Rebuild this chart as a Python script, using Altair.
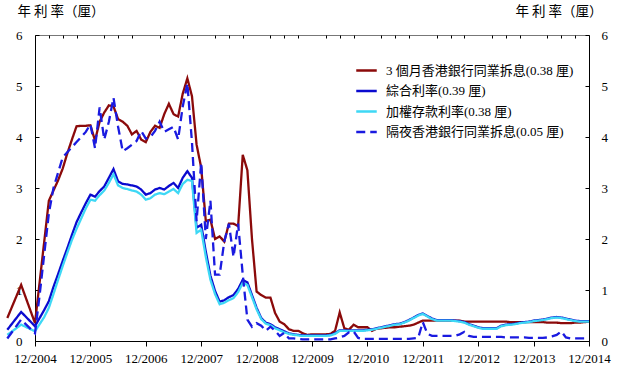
import altair as alt
import pandas as pd

# month index: 0 = Dec 2004 ... 120 = Dec 2014 (two earlier quarterly points for 2004)
months = [-6, -3] + list(range(0, 121))

hibor_3m = [0.45, 1.10,
    0.35, 1.15, 1.95, 2.75, 2.95, 3.15, 3.38, 3.68, 3.95, 4.21,
    4.22, 4.22, 4.23, 3.93, 4.30, 4.48, 4.62, 4.60, 4.35, 4.30,
    4.22, 4.05, 4.12, 3.95, 3.90, 4.10, 4.22, 4.18, 4.45, 4.65,
    4.45, 4.40, 4.85, 5.15, 4.80, 3.85, 3.40, 2.35, 2.38, 2.00,
    2.05, 1.95, 2.30, 2.30, 2.25, 3.65, 3.35, 2.00, 0.97, 0.90,
    0.85, 0.85, 0.55, 0.38, 0.33, 0.23, 0.20, 0.20, 0.15, 0.12,
    0.13, 0.13, 0.13, 0.13, 0.14, 0.20, 0.56, 0.25, 0.22, 0.32,
    0.27, 0.27, 0.27, 0.20, 0.24, 0.25, 0.26, 0.27, 0.27, 0.28,
    0.29, 0.30, 0.32, 0.36, 0.40, 0.40, 0.40, 0.40, 0.40, 0.40,
    0.40, 0.40, 0.40, 0.38, 0.38, 0.38, 0.38, 0.38, 0.38, 0.38,
    0.38, 0.38, 0.38, 0.37, 0.37, 0.37, 0.37, 0.37, 0.37, 0.37,
    0.37, 0.36, 0.36, 0.36, 0.35, 0.35, 0.35, 0.36, 0.36, 0.37,
    0.38]

composite = [0.22, 0.57,
    0.29, 0.45, 0.61, 0.78, 1.06, 1.31, 1.57, 1.82, 2.08, 2.33,
    2.52, 2.70, 2.87, 2.83, 2.94, 3.03, 3.20, 3.37, 3.13, 3.08,
    3.07, 3.05, 3.03, 2.97, 2.87, 2.90, 2.97, 3.00, 2.97, 3.04,
    3.10, 3.00, 3.20, 3.33, 3.20, 2.22, 2.28, 1.75, 1.28, 0.98,
    0.77, 0.80, 0.86, 0.90, 1.02, 1.20, 1.15, 0.90, 0.65, 0.45,
    0.36, 0.33, 0.27, 0.23, 0.19, 0.15, 0.13, 0.12, 0.11, 0.11,
    0.11, 0.11, 0.11, 0.11, 0.12, 0.15, 0.21, 0.21, 0.21, 0.21,
    0.21, 0.21, 0.22, 0.23, 0.25, 0.27, 0.29, 0.31, 0.33, 0.34,
    0.37, 0.41, 0.46, 0.51, 0.54, 0.49, 0.44, 0.41, 0.41, 0.41,
    0.41, 0.40, 0.39, 0.37, 0.33, 0.30, 0.27, 0.25, 0.25, 0.25,
    0.25, 0.30, 0.32, 0.33, 0.34, 0.36, 0.37, 0.38, 0.40, 0.41,
    0.42, 0.44, 0.46, 0.47, 0.46, 0.44, 0.42, 0.40, 0.39, 0.39,
    0.39]

deposit = [0.12, 0.32,
    0.19, 0.33, 0.47, 0.65, 0.92, 1.20, 1.47, 1.73, 1.98, 2.20,
    2.40, 2.60, 2.77, 2.75, 2.86, 2.95, 3.10, 3.27, 3.05, 3.00,
    2.98, 2.95, 2.93, 2.87, 2.77, 2.80, 2.87, 2.90, 2.88, 2.93,
    2.98, 2.90, 3.08, 3.16, 3.14, 2.12, 2.18, 1.65, 1.20, 0.92,
    0.72, 0.75, 0.80, 0.84, 0.96, 1.14, 1.10, 0.86, 0.62, 0.43,
    0.34, 0.31, 0.25, 0.21, 0.17, 0.14, 0.12, 0.11, 0.10, 0.10,
    0.10, 0.10, 0.10, 0.10, 0.11, 0.14, 0.20, 0.20, 0.20, 0.20,
    0.20, 0.20, 0.21, 0.22, 0.24, 0.26, 0.28, 0.30, 0.32, 0.33,
    0.36, 0.40, 0.45, 0.50, 0.53, 0.48, 0.43, 0.40, 0.40, 0.40,
    0.40, 0.39, 0.38, 0.36, 0.32, 0.29, 0.26, 0.24, 0.24, 0.24,
    0.24, 0.29, 0.31, 0.32, 0.33, 0.35, 0.36, 0.37, 0.39, 0.40,
    0.41, 0.43, 0.45, 0.46, 0.45, 0.43, 0.41, 0.39, 0.38, 0.38,
    0.38]

overnight = [0.05, 0.42,
    0.15, 0.90, 1.70, 2.50, 3.00, 3.30, 3.60, 3.70, 3.80, 3.90,
    4.00, 4.10, 4.25, 3.78, 4.58, 3.95, 4.30, 4.77, 4.20, 3.72,
    3.78, 3.85, 3.92, 4.12, 3.97, 4.00, 4.12, 4.30, 4.10, 4.15,
    4.20, 3.95, 4.60, 5.05, 3.90, 2.35, 3.50, 2.00, 2.75, 1.30,
    1.30, 1.95, 2.30, 1.65, 2.30, 1.30, 0.42, 0.28, 0.35, 0.30,
    0.20, 0.28, 0.20, 0.10, 0.16, 0.05, 0.05, 0.04, 0.03, 0.03,
    0.03, 0.03, 0.03, 0.03, 0.03, 0.05, 0.07, 0.10, 0.17, 0.19,
    0.06, 0.04, 0.04, 0.04, 0.04, 0.04, 0.04, 0.04, 0.04, 0.04,
    0.04, 0.04, 0.05, 0.06, 0.37, 0.14, 0.10, 0.10, 0.10, 0.10,
    0.10, 0.10, 0.13, 0.18, 0.10, 0.08, 0.08, 0.08, 0.08, 0.08,
    0.08, 0.08, 0.07, 0.07, 0.07, 0.07, 0.07, 0.06, 0.06, 0.06,
    0.06, 0.07, 0.09, 0.12, 0.19, 0.07, 0.05, 0.05, 0.05, 0.05,
    0.05]

series_names = [
    "3 個月香港銀行同業拆息(0.38 厘)",
    "綜合利率(0.39 厘)",
    "加權存款利率(0.38 厘)",
    "隔夜香港銀行同業拆息(0.05 厘)",
]
series_values = [hibor_3m, composite, deposit, overnight]
colors = ["#8B0A0A", "#0A0ACF", "#3ED8F5", "#1A1AE0"]
dashes = [[1, 0], [1, 0], [1, 0], [9, 5]]
widths = [2.3, 2.3, 3.6, 2.6]

axis_title = "年 利 率（厘）"
year_ticks = list(range(0, 121, 12))
quarter_ticks = [m for m in range(0, 121, 3) if m % 12 != 0]
y_ticks = [0, 1, 2, 3, 4, 5, 6]

rows = []
for name, vals in zip(series_names, series_values):
    for m, v in zip(months, vals):
        rows.append({"m": m, "v": v, "s": name})
df = pd.DataFrame(rows)

FONT_LAT = "Liberation Serif"
FONT_CJK = "'Noto Sans CJK TC', 'Liberation Serif'"
MIXED = "'Liberation Serif', 'Noto Sans CJK TC'"

xscale = alt.Scale(domain=[0, 120], nice=False, zero=False)
yscale = alt.Scale(domain=[0, 6], nice=False, zero=True)


def legend():
    return alt.Legend(title=None, orient="none", legendX=320, legendY=24,
                      symbolType="stroke", symbolSize=420,
                      labelFont=MIXED, labelFontSize=13, labelColor="black",
                      rowPadding=1.5, labelOffset=8, padding=0, labelLimit=400)


main = alt.Chart(df).mark_line().encode(
    x=alt.X("m:Q", scale=xscale,
            axis=alt.Axis(values=year_ticks, title=None, grid=False,
                          labelExpr="'12/' + (2004 + datum.value / 12)",
                          tickSize=5, tickColor="black", domainColor="black",
                          labelFont=FONT_LAT, labelFontSize=13, labelColor="black",
                          labelPadding=6, labelFlush=False)),
    y=alt.Y("v:Q", scale=yscale,
            axis=alt.Axis(orient="left", values=y_ticks, grid=False, ticks=False,
                          tickSize=0, labelPadding=13, domainColor="black",
                          labelFont=FONT_LAT, labelFontSize=13, labelColor="black",
                          title=axis_title, titleAngle=0, titleAlign="left",
                          titleBaseline="middle", titleX=-18, titleY=-24,
                          titleFont=FONT_CJK, titleFontSize=13.5,
                          titleFontWeight="normal", titleColor="black")),
    color=alt.Color("s:N", scale=alt.Scale(domain=series_names, range=colors),
                    legend=legend()),
    strokeDash=alt.StrokeDash("s:N", scale=alt.Scale(domain=series_names, range=dashes),
                              legend=legend()),
    strokeWidth=alt.StrokeWidth("s:N", scale=alt.Scale(domain=series_names, range=widths),
                                legend=legend()),
    order=alt.Order("m:Q"),
)

ticks_left = alt.Chart(df).mark_point(opacity=0).encode(
    x=alt.X("m:Q", scale=xscale,
            axis=alt.Axis(values=quarter_ticks, labels=False, domain=False, grid=False,
                          tickSize=3, offset=-3, tickColor="black", title=None)),
    y=alt.Y("v:Q", scale=yscale,
            axis=alt.Axis(orient="left", values=y_ticks, labels=False, domain=False,
                          grid=False, tickSize=4, offset=-4, tickColor="black", title=None)),
)

right_axis = alt.Chart(df).mark_point(opacity=0).encode(
    x=alt.X("m:Q", scale=xscale, axis=None),
    y=alt.Y("v:Q", scale=yscale,
            axis=alt.Axis(orient="right", values=y_ticks, grid=False, ticks=False,
                          tickSize=0, labelPadding=12, domainColor="black",
                          labelFont=FONT_LAT, labelFontSize=13, labelColor="black",
                          title=axis_title, titleAngle=0, titleAlign="left",
                          titleBaseline="middle", titleX=-74, titleY=-24,
                          titleFont=FONT_CJK, titleFontSize=13.5,
                          titleFontWeight="normal", titleColor="black")),
)

ticks_right = alt.Chart(df).mark_point(opacity=0).encode(
    x=alt.X("m:Q", scale=xscale, axis=None),
    y=alt.Y("v:Q", scale=yscale,
            axis=alt.Axis(orient="right", values=y_ticks, labels=False, domain=False,
                          grid=False, tickSize=4, offset=-4, tickColor="black", title=None)),
)

chart = alt.layer(main, ticks_left, right_axis, ticks_right).resolve_axis(
    x="independent", y="independent"
).properties(
    width=554, height=306,
    autosize=alt.AutoSizeParams(type="none"),
    padding={"left": 35, "top": 35, "right": 35, "bottom": 28},
).configure_view(
    stroke="#777777", strokeWidth=1
).configure_axis(
    domainWidth=1
)

chart.save("out.html", embed_options={"renderer": "svg", "actions": False})
